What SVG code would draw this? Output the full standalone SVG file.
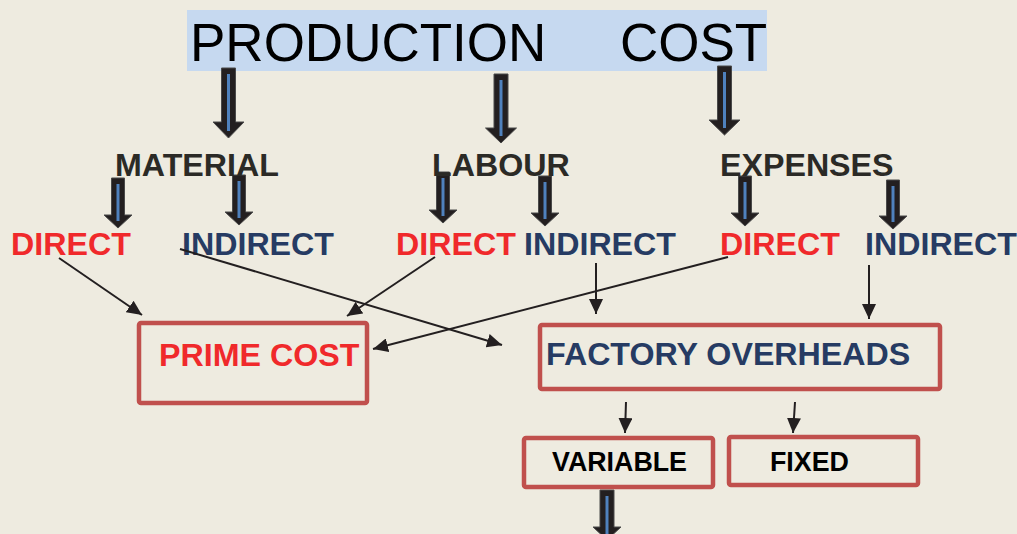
<svg xmlns="http://www.w3.org/2000/svg" width="1017" height="534" viewBox="0 0 1017 534">
  <style>
    .bg { fill: #eeebe0; }
    .title { font-family: "Liberation Sans", Arial, sans-serif; font-size: 53px; fill: #000; }
    .lbl { font-family: "Liberation Sans", Arial, sans-serif; font-weight: bold; font-size: 32.2px; }
    .head { fill: #2b2a26; }
    .red { fill: #f0292b; }
    .navy { fill: #263b63; }
    .small { font-family: "Liberation Sans", Arial, sans-serif; font-weight: bold; font-size: 26.8px; fill: #000; }
    .box { fill: none; stroke: #c0504d; stroke-width: 4.5; }
    .blk { fill: #231f20; stroke: #4a4a4a; stroke-width: 1; }
    .stripe { stroke: #4f81bd; stroke-width: 3; }
    .conn { stroke: #231f20; stroke-width: 2; fill: none; marker-end: url(#tip); }
  </style>
  <defs>
    <marker id="tip" markerUnits="userSpaceOnUse" markerWidth="16" markerHeight="14" refX="15" refY="7" orient="auto">
      <path d="M0,0 L15,7 L0,14 Z" fill="#231f20"/>
    </marker>
  </defs>

  <rect class="bg" x="0" y="0" width="1017" height="534"/>

  <!-- heading -->
  <g id="production-cost">
    <rect x="187" y="10" width="580" height="61" fill="#c6d9f0"/>
    <text class="title" x="190" y="61">PRODUCTION</text>
    <text class="title" x="620" y="61">COST</text>
  </g>

  <!-- block arrows from the heading to the three cost elements -->
  <g id="block-arrows">
    <polygon class="blk" points="221.5,68 235.5,68 235.5,122 244,122 228.5,138 213,122 221.5,122"/>
    <line class="stripe" x1="228.5" y1="74" x2="228.5" y2="131"/>
    <polygon class="blk" points="494,74 508,74 508,128 516.5,128 501,143 485.5,128 494,128"/>
    <line class="stripe" x1="501" y1="80" x2="501" y2="136"/>
    <polygon class="blk" points="717.5,66 731.5,66 731.5,120 740,120 724.5,135 709,120 717.5,120"/>
    <line class="stripe" x1="724.5" y1="72" x2="724.5" y2="128"/>

    <!-- element to direct / indirect -->
    <polygon class="blk" points="111.5,178 124.5,178 124.5,215 132,215 118,228 104,215 111.5,215"/>
    <line class="stripe" x1="118" y1="184" x2="118" y2="221"/>
    <polygon class="blk" points="232.5,175 245.5,175 245.5,212 253,212 239,225 225,212 232.5,212"/>
    <line class="stripe" x1="239" y1="181" x2="239" y2="218"/>
    <polygon class="blk" points="436.5,172 449.5,172 449.5,210 457,210 443,223 429,210 436.5,210"/>
    <line class="stripe" x1="443" y1="178" x2="443" y2="216"/>
    <polygon class="blk" points="538.5,176 551.5,176 551.5,213 559,213 545,226 531,213 538.5,213"/>
    <line class="stripe" x1="545" y1="182" x2="545" y2="219"/>
    <polygon class="blk" points="738.5,176 751.5,176 751.5,213 759,213 745,226 731,213 738.5,213"/>
    <line class="stripe" x1="745" y1="182" x2="745" y2="219"/>
    <polygon class="blk" points="886.5,180 899.5,180 899.5,216 907,216 893,229 879,216 886.5,216"/>
    <line class="stripe" x1="893" y1="186" x2="893" y2="222"/>

    <!-- below VARIABLE -->
    <polygon class="blk" points="600,490 614,490 614,527 621,527 607,540 593,527 600,527"/>
    <line class="stripe" x1="607" y1="496" x2="607" y2="534"/>
  </g>

  <!-- cost elements -->
  <g id="material"><text class="lbl head" x="115" y="176">MATERIAL</text></g>
  <g id="labour"><text class="lbl head" x="432" y="176">LABOUR</text></g>
  <g id="expenses"><text class="lbl head" x="720" y="176">EXPENSES</text></g>

  <g id="material-direct"><text class="lbl red" x="11" y="255">DIRECT</text></g>
  <g id="material-indirect"><text class="lbl navy" x="182" y="255">INDIRECT</text></g>
  <g id="labour-direct"><text class="lbl red" x="396" y="255">DIRECT</text></g>
  <g id="labour-indirect"><text class="lbl navy" x="524" y="255">INDIRECT</text></g>
  <g id="expenses-direct"><text class="lbl red" x="720" y="255">DIRECT</text></g>
  <g id="expenses-indirect"><text class="lbl navy" x="865" y="255">INDIRECT</text></g>

  <!-- totals -->
  <g id="prime-cost">
    <rect class="box" x="139" y="323" width="228" height="80" rx="2"/>
    <text class="lbl red" x="159" y="366">PRIME COST</text>
  </g>
  <g id="factory-overheads">
    <rect class="box" x="540" y="325" width="400" height="64" rx="2"/>
    <text class="lbl navy" x="546" y="365">FACTORY OVERHEADS</text>
  </g>
  <g id="variable">
    <rect class="box" x="524" y="438" width="189" height="49" rx="2"/>
    <text class="small" x="552" y="471">VARIABLE</text>
  </g>
  <g id="fixed">
    <rect class="box" x="729" y="437" width="189" height="48" rx="2"/>
    <text class="small" x="770" y="471">FIXED</text>
  </g>

  <!-- thin connectors -->
  <g id="connectors">
    <line class="conn" x1="59" y1="258" x2="142" y2="315"/>
    <line class="conn" x1="180" y1="249" x2="502" y2="345"/>
    <line class="conn" x1="435" y1="257" x2="347" y2="316"/>
    <line class="conn" x1="728" y1="257" x2="373" y2="349"/>
    <line class="conn" x1="596" y1="263" x2="596" y2="314"/>
    <line class="conn" x1="869" y1="265" x2="869" y2="319"/>
    <line class="conn" x1="626" y1="402" x2="625" y2="433"/>
    <line class="conn" x1="795" y1="402" x2="793" y2="433"/>
  </g>
</svg>
